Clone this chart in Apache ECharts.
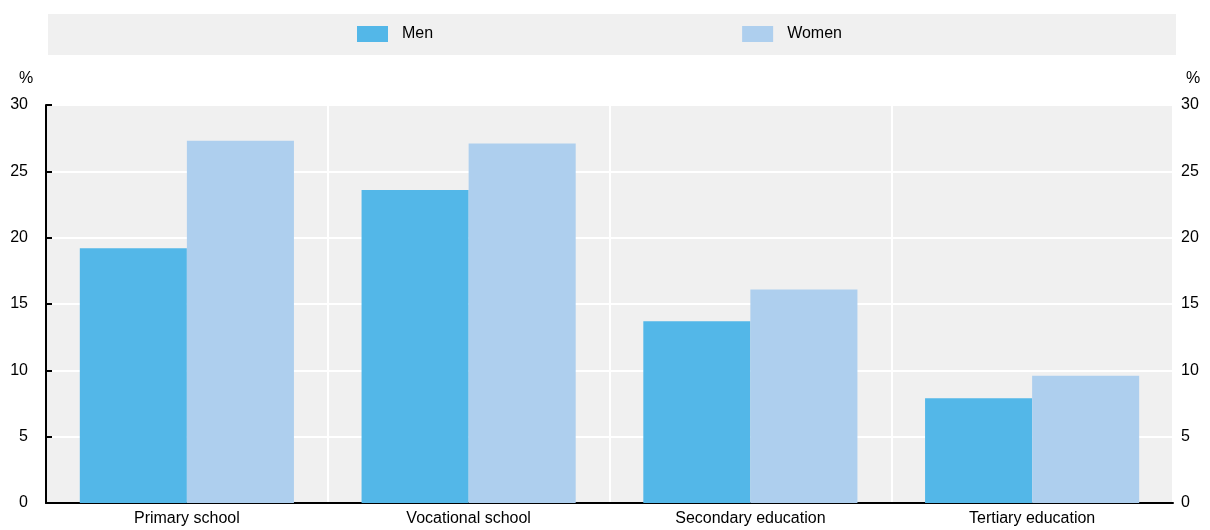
<!DOCTYPE html>
<html>
<head>
<meta charset="utf-8">
<script src="https://cdn.jsdelivr.net/npm/echarts@6/dist/echarts.min.js"></script>
<style>html,body{margin:0;padding:0;background:#fff}#c{width:1210px;height:530px}</style>
</head>
<body>
<div id="c"></div>
<script>
var categories = ['Primary school', 'Vocational school', 'Secondary education', 'Tertiary education'];
var men = [19.2, 23.6, 13.7, 7.9];
var women = [27.3, 27.1, 16.1, 9.6];
var seriesNames = ['Men', 'Women'];
var yTicks = [0, 5, 10, 15, 20, 25, 30];

var font = '"Liberation Sans", Arial, sans-serif';
var fs = 16;
var chart = echarts.init(document.getElementById('c'), null, {renderer: 'canvas'});
var yCommon = {
  type: 'value', min: yTicks[0], max: yTicks[yTicks.length - 1], interval: yTicks[1] - yTicks[0]
};
chart.setOption({
  animation: false,
  textStyle: {fontFamily: font},
  graphic: [
    {type: 'rect', shape: {x: 48, y: 14, width: 1128, height: 41}, style: {fill: '#f0f0f0'}, z: -1},
    {type: 'text', left: 19, top: 71, style: {text: '%', font: fs + 'px ' + font, fill: '#000'}},
    {type: 'text', left: 1186, top: 71, style: {text: '%', font: fs + 'px ' + font, fill: '#000'}}
  ],
  legend: {
    data: seriesNames,
    left: 357, top: 26, padding: 0,
    itemWidth: 31, itemHeight: 16, itemGap: 309,
    textStyle: {fontSize: fs, color: '#000', fontFamily: font, padding: [0, 0, 0, 9]},
    icon: 'rect'
  },
  grid: {left: 46, right: 37, top: 105, bottom: 27, show: true, backgroundColor: '#f0f0f0', borderWidth: 0, containLabel: false},
  xAxis: {
    type: 'category', data: categories,
    axisLine: {lineStyle: {color: '#000', width: 2}},
    axisTick: {show: false},
    axisLabel: {fontSize: fs, color: '#000', margin: 8, fontFamily: font},
    splitLine: {show: true, interval: 0, lineStyle: {color: '#fff', width: 2}}
  },
  yAxis: [
    Object.assign({}, yCommon, {
      position: 'left',
      axisLine: {show: true, lineStyle: {color: '#000', width: 2}},
      axisTick: {show: true, inside: true, length: 6, lineStyle: {color: '#000', width: 2}},
      axisLabel: {fontSize: fs, color: '#000', margin: 18, fontFamily: font},
      splitLine: {show: true, lineStyle: {color: '#fff', width: 2}}
    }),
    Object.assign({}, yCommon, {
      position: 'right',
      axisLine: {show: false},
      axisTick: {show: false},
      axisLabel: {fontSize: fs, color: '#000', margin: 8, fontFamily: font},
      splitLine: {show: false}
    })
  ],
  series: [
    {name: seriesNames[0], type: 'bar', data: men, itemStyle: {color: '#53b7e8'}, barGap: '0%', barCategoryGap: '24%'},
    {name: seriesNames[1], type: 'bar', data: women, itemStyle: {color: '#aecfee'}, barGap: '0%', barCategoryGap: '24%'}
  ]
});
</script>
</body>
</html>
